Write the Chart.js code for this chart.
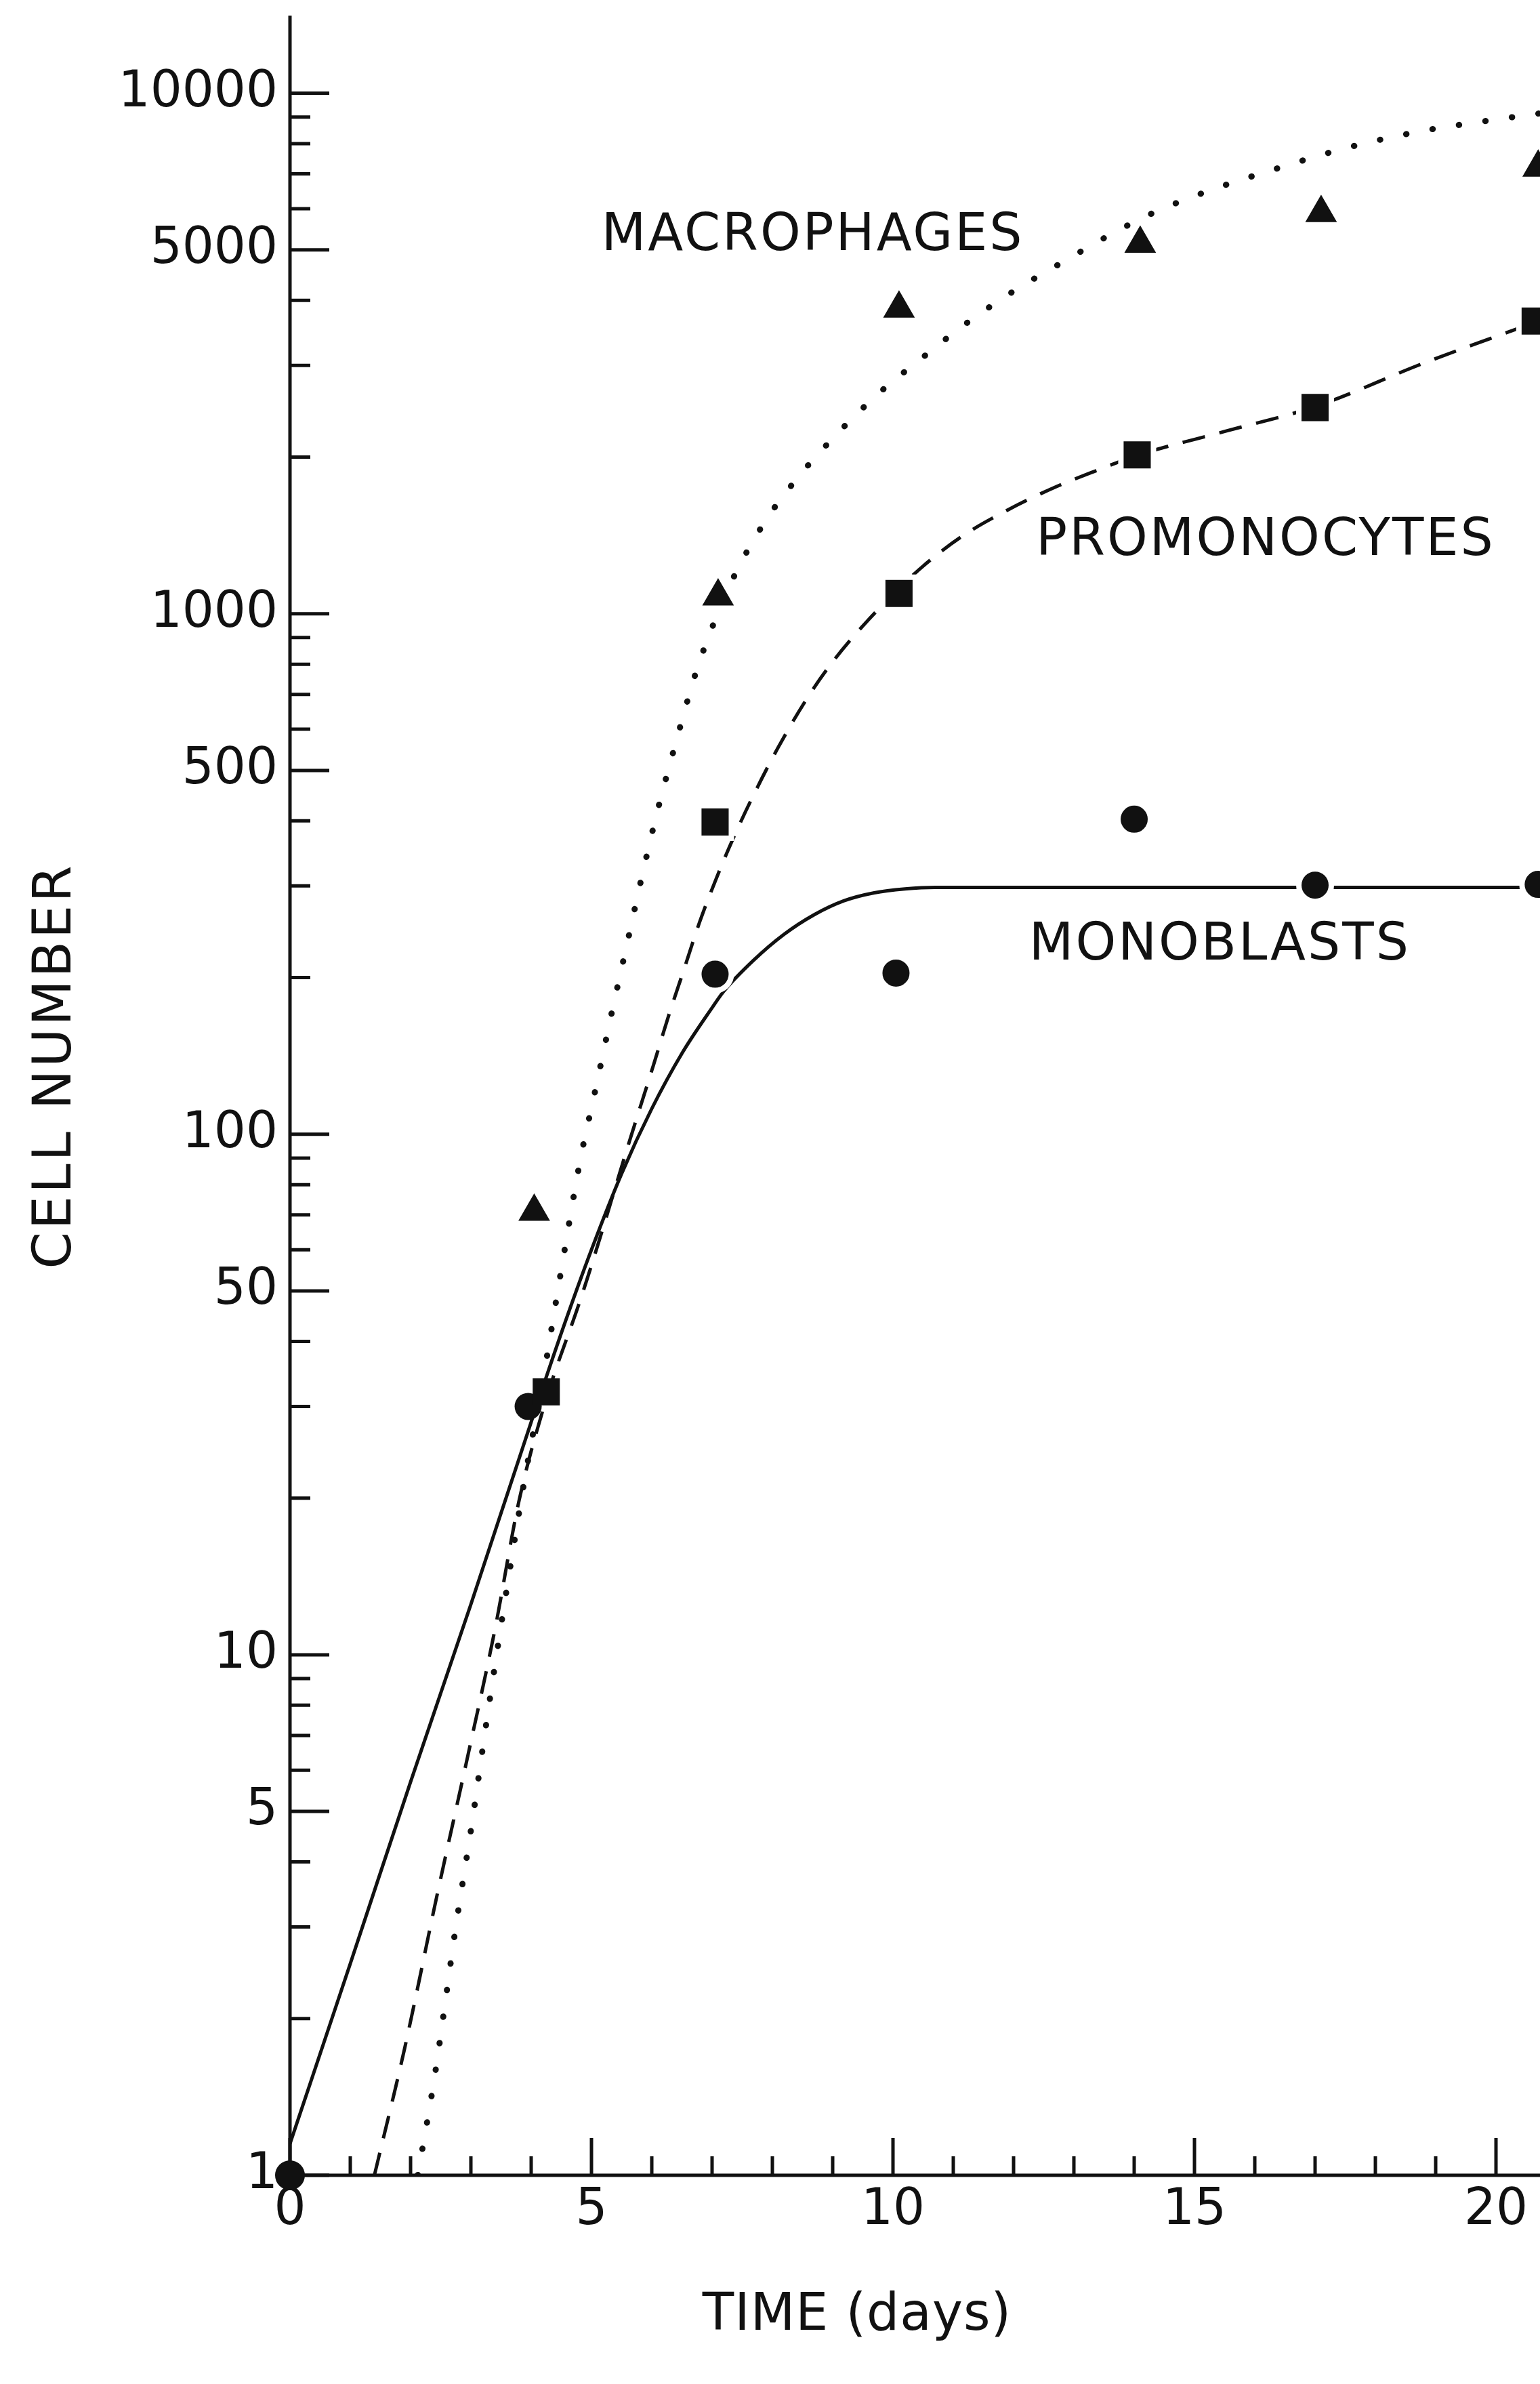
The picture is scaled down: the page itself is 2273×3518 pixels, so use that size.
<!DOCTYPE html>
<html>
<head>
<meta charset="utf-8">
<script src="https://cdn.jsdelivr.net/npm/chart.js@4.4.0/dist/chart.umd.min.js"></script>
<style>
  html, body { margin: 0; padding: 0; background: #fff; }
  #wrap { width: 2273px; height: 3518px; }
</style>
</head>
<body>
<div id="wrap"><canvas id="cellChart" width="2273" height="3518"></canvas></div>
<script>
// measured counts (markers)
const macroDays  = [4.05, 7.1, 10.1, 14.1, 17.1, 20.7];
const macroCells = [71, 1080, 3860, 5140, 5890, 7200];
const promoDays  = [4.25, 7.05, 10.1, 14.05, 17.0, 20.65];
const promoCells = [32, 398, 1094, 2020, 2490, 3650];
const monoDays   = [0, 3.95, 7.05, 10.05, 14.0, 17.0, 20.7];
const monoCells  = [1, 30, 203, 204, 403, 301, 302];

// fitted curves
const macroFitDays  = [2.12, 2.4, 2.75, 3.0, 3.3, 3.6, 3.9, 4.2, 4.5, 4.82, 5.04, 5.34, 5.6, 5.85, 6.11, 6.37, 6.73, 7.03, 7.38, 7.88, 8.41, 9.03, 9.76, 10.49, 11.24, 12.02, 12.82, 13.6, 14.3, 15.18, 16.37, 17.5, 18.7, 19.9, 20.73];
const macroFitCells = [1, 1.55, 3.0, 4.6, 8.0, 13.5, 22, 34, 55, 90, 118, 172, 235, 318, 425, 550, 770, 960, 1190, 1505, 1820, 2190, 2649, 3106, 3630, 4180, 4742, 5346, 5880, 6460, 7170, 7840, 8430, 8870, 9150];
const promoFitDays  = [1.4, 1.9, 2.45, 2.95, 3.4, 3.8, 4.25, 4.8, 5.0, 5.63, 6.03, 6.28, 6.52, 6.79, 7.07, 7.34, 7.69, 8.09, 8.6, 9.03, 9.58, 10.09, 10.5, 11.15, 11.9, 12.68, 13.37, 14.05, 15.5, 17.0, 18.8, 20.73];
const promoFitCells = [1, 1.75, 3.5, 6.4, 11.2, 19.8, 31, 47.5, 56, 97, 136, 169, 205, 255, 310, 368, 449, 552, 695, 817, 970, 1115, 1235, 1410, 1582, 1749, 1883, 2015, 2240, 2500, 3030, 3660];
const monoFitDays   = [0, 1, 2, 3, 4, 4.5, 5.0, 5.5, 6.0, 6.5, 7.0, 7.19, 7.69, 8.19, 8.69, 9.19, 9.69, 10.2, 10.7, 14, 20.73];
const monoFitCells  = [1.15, 2.55, 5.7, 12.5, 28, 41.5, 60, 84, 112, 143, 175, 188, 216, 242, 264, 281, 291, 296, 298, 298, 298];

// axes
const xMajorTicks = [0, 5, 10, 15, 20];
const xMinorTicks = [1, 2, 3, 4, 6, 7, 8, 9, 11, 12, 13, 14, 16, 17, 18, 19];
const yMajorTicks = [1, 5, 10, 50, 100, 500, 1000, 5000, 10000];
const yMinorTicks = [2, 3, 4, 6, 7, 8, 9, 20, 30, 40, 60, 70, 80, 90, 200, 300, 400, 600, 700, 800, 900,
                     2000, 3000, 4000, 6000, 7000, 8000, 9000];

// curve names, anchored in data units
const curveLabels = ['MACROPHAGES', 'PROMONOCYTES', 'MONOBLASTS'];
const labelDays   = [8.67, 16.18, 15.42];
const labelCells  = [5300, 1375, 230];

const INK = '#111';
const FONT = "'DejaVu Sans', sans-serif";

const pts = (xs, ys) => xs.map((x, i) => ({ x: x, y: ys[i] }));

// white ring round markers, which breaks the curves like the drawing does
const halo = c => c.raw && c.raw.x >= 5;

const framePlugin = {
    id: 'frame',
    beforeDatasetsDraw(chart) {
        const { ctx, chartArea: a, scales: { x, y } } = chart;
        ctx.save();
        ctx.strokeStyle = INK;
        ctx.lineWidth = 5;
        ctx.beginPath();
        ctx.moveTo(a.left, a.top);
        ctx.lineTo(a.left, a.bottom);
        ctx.lineTo(a.right, a.bottom);
        ctx.stroke();

        ctx.beginPath();
        yMajorTicks.forEach(v => {
            const py = y.getPixelForValue(v);
            ctx.moveTo(a.left, py); ctx.lineTo(a.left + 58, py);
        });
        yMinorTicks.forEach(v => {
            const py = y.getPixelForValue(v);
            ctx.moveTo(a.left, py); ctx.lineTo(a.left + 30, py);
        });
        xMajorTicks.forEach(v => {
            const px = x.getPixelForValue(v);
            ctx.moveTo(px, a.bottom); ctx.lineTo(px, a.bottom - 55);
        });
        xMinorTicks.forEach(v => {
            const px = x.getPixelForValue(v);
            ctx.moveTo(px, a.bottom); ctx.lineTo(px, a.bottom - 28);
        });
        ctx.stroke();
        ctx.restore();
    },
    afterDatasetsDraw(chart) {
        const { ctx, scales: { x, y } } = chart;
        ctx.save();
        ctx.fillStyle = INK;
        ctx.textAlign = 'center';
        ctx.textBaseline = 'middle';
        ctx.font = '76px ' + FONT;
        if ('letterSpacing' in ctx) ctx.letterSpacing = '3px';
        curveLabels.forEach((t, i) => {
            ctx.fillText(t, x.getPixelForValue(labelDays[i]), y.getPixelForValue(labelCells[i]));
        });

        // axis titles
        if ('letterSpacing' in ctx) ctx.letterSpacing = '1px';
        ctx.fillText('TIME (days)', 1265, 3418);

        ctx.translate(84, 1573);
        ctx.rotate(-Math.PI / 2);
        ctx.font = '78px ' + FONT;
        if ('letterSpacing' in ctx) ctx.letterSpacing = '4px';
        ctx.fillText('CELL NUMBER', 0, 0);
        ctx.restore();
    }
};

const ctx = document.getElementById('cellChart').getContext('2d');
new Chart(ctx, {
    type: 'line',
    data: {
        datasets: [
            {
                label: 'Macrophages',
                data: pts(macroDays, macroCells),
                showLine: false,
                pointStyle: 'triangle',
                pointRadius: c => halo(c) ? 35 : 27,
                pointBorderWidth: c => halo(c) ? 8 : 0,
                pointBackgroundColor: INK,
                pointBorderColor: '#fff',
                clip: false,
                order: 0
            },
            {
                label: 'Promonocytes',
                data: pts(promoDays, promoCells),
                showLine: false,
                pointStyle: 'rect',
                pointRadius: c => halo(c) ? 34 : 28.3,
                pointBorderWidth: c => halo(c) ? 8 : 0,
                pointBackgroundColor: INK,
                pointBorderColor: '#fff',
                clip: false,
                order: 0
            },
            {
                label: 'Monoblasts',
                data: pts(monoDays, monoCells),
                showLine: false,
                pointStyle: 'circle',
                pointRadius: c => c.raw && c.raw.x === 0 ? 22 : (halo(c) ? 24 : 20),
                pointBorderWidth: c => halo(c) ? 8 : 0,
                pointBackgroundColor: INK,
                pointBorderColor: '#fff',
                clip: false,
                order: 0
            },
            {
                label: 'Macrophages fit',
                data: pts(macroFitDays, macroFitCells),
                borderColor: INK,
                borderWidth: 9,
                borderDash: [0.5, 39],
                borderCapStyle: 'round',
                pointRadius: 0,
                cubicInterpolationMode: 'monotone',
                order: 1
            },
            {
                label: 'Promonocytes fit',
                data: pts(promoFitDays, promoFitCells),
                borderColor: INK,
                borderWidth: 5,
                borderDash: [34, 22],
                pointRadius: 0,
                cubicInterpolationMode: 'monotone',
                order: 1
            },
            {
                label: 'Monoblasts fit',
                data: pts(monoFitDays, monoFitCells),
                borderColor: INK,
                borderWidth: 5,
                pointRadius: 0,
                cubicInterpolationMode: 'monotone',
                order: 1
            }
        ]
    },
    options: {
        responsive: false,
        animation: false,
        events: [],
        layout: { autoPadding: false, padding: { top: 23, left: 0, right: 0, bottom: 0 } },
        plugins: {
            legend: { display: false },
            tooltip: { enabled: false }
        },
        scales: {
            x: {
                type: 'linear',
                min: 0,
                max: 20.73,
                afterBuildTicks: s => { s.ticks = xMajorTicks.map(v => ({ value: v })); },
                afterFit: s => { s.height = 308; s.paddingLeft = 0; s.paddingRight = 0; },
                grid: { display: false, drawTicks: false },
                border: { display: false },
                ticks: {
                    color: INK,
                    font: { family: FONT, size: 74 },
                    padding: 8,
                    maxRotation: 0,
                    autoSkip: false,
                    callback: v => String(v)
                }
            },
            y: {
                type: 'logarithmic',
                min: 1,
                max: 14100,
                afterBuildTicks: s => { s.ticks = yMajorTicks.map(v => ({ value: v })); },
                afterFit: s => { s.width = 428; s.paddingTop = 0; s.paddingBottom = 0; },
                grid: { display: false, drawTicks: false },
                border: { display: false },
                ticks: {
                    color: INK,
                    font: { family: FONT, size: 74 },
                    padding: 18,
                    autoSkip: false,
                    callback: v => String(v)
                }
            }
        }
    },
    plugins: [framePlugin]
});
</script>
</body>
</html>
